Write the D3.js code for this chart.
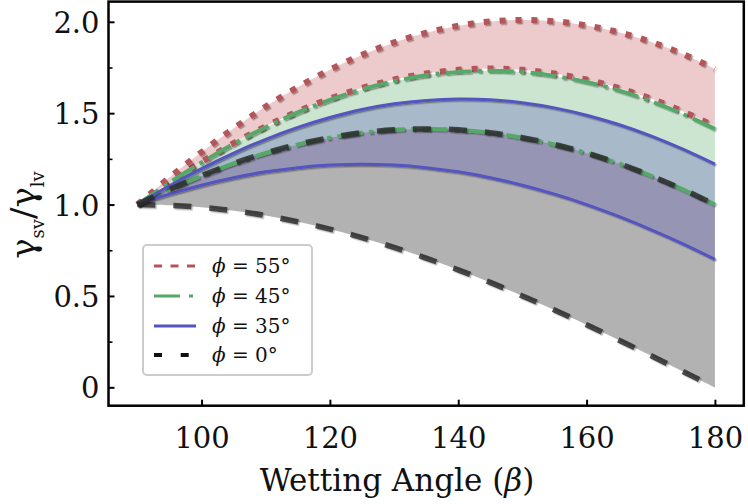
<!DOCTYPE html>
<html>
<head>
<meta charset="utf-8">
<script src="https://cdn.jsdelivr.net/npm/d3@7"></script>
<style>
  html, body { margin: 0; padding: 0; background: #fff; }
  svg { display: block; }
  text { font-family: "DejaVu Serif", "Liberation Serif", serif; fill: #111; }
</style>
</head>
<body>
<svg id="chart" width="748" height="504"></svg>
<script>
// ---- data ----
const betas = [90, 95, 100, 105, 110, 115, 120, 125, 130, 135, 140, 145, 150, 155, 160, 165, 170, 175, 180];

const phi0Lower  = [1.000, 0.996, 0.985, 0.966, 0.940, 0.906, 0.866, 0.819, 0.766, 0.707, 0.643, 0.574, 0.500, 0.423, 0.342, 0.259, 0.174, 0.087, 0.000];
const phi0Upper  = [1.000, 1.083, 1.158, 1.225, 1.282, 1.329, 1.366, 1.393, 1.409, 1.414, 1.409, 1.393, 1.366, 1.329, 1.282, 1.225, 1.158, 1.083, 1.000];
const phi35Lower = [1.000, 1.057, 1.106, 1.147, 1.179, 1.202, 1.216, 1.221, 1.216, 1.202, 1.179, 1.147, 1.106, 1.057, 1.000, 0.935, 0.863, 0.785, 0.700];
const phi35Upper = [1.000, 1.103, 1.197, 1.282, 1.357, 1.422, 1.476, 1.520, 1.551, 1.570, 1.578, 1.574, 1.557, 1.529, 1.489, 1.438, 1.376, 1.303, 1.221];
const phi45Lower = [1.000, 1.083, 1.158, 1.225, 1.282, 1.329, 1.366, 1.393, 1.409, 1.414, 1.409, 1.393, 1.366, 1.329, 1.282, 1.225, 1.158, 1.083, 1.000];
const phi45Upper = [1.000, 1.120, 1.230, 1.332, 1.423, 1.504, 1.573, 1.630, 1.675, 1.707, 1.726, 1.732, 1.725, 1.704, 1.671, 1.625, 1.566, 1.496, 1.414];
const phi55Lower = [1.000, 1.121, 1.233, 1.336, 1.428, 1.510, 1.580, 1.638, 1.684, 1.717, 1.737, 1.744, 1.737, 1.717, 1.684, 1.638, 1.580, 1.510, 1.428];
const phi55Upper = [1.000, 1.148, 1.287, 1.417, 1.536, 1.643, 1.738, 1.819, 1.887, 1.940, 1.978, 2.002, 2.010, 2.003, 1.980, 1.943, 1.891, 1.824, 1.743];

const legendLabels = ["55°", "45°", "35°", "0°"];
const xTicks = [100, 120, 140, 160, 180];
const yTicks = [0, 0.5, 1.0, 1.5, 2.0];
const yTickLabels = ["0", "0.5", "1.0", "1.5", "2.0"];
const yMinorTicks = [0.25, 0.75, 1.25, 1.75];

// ---- layout ----
const svg = d3.select("#chart");
const X0 = 108.5, X1 = 743.8, Y0 = 405.7, Y1 = 1.6;
const x = d3.scaleLinear().domain([85.5, 184.5]).range([X0, X1]);
const y = d3.scaleLinear().domain([-0.1005, 2.1105]).range([Y0, Y1]);

const defs = svg.append("defs");
const f = defs.append("filter").attr("id", "shadow").attr("x", "-10%").attr("y", "-10%").attr("width", "120%").attr("height", "120%");
f.append("feDropShadow").attr("dx", 1.4).attr("dy", 1.4).attr("stdDeviation", 0.4)
  .attr("flood-color", "#000").attr("flood-opacity", 0.35);
defs.append("clipPath").attr("id", "clip").append("rect")
  .attr("x", X0).attr("y", Y1).attr("width", X1 - X0).attr("height", Y0 - Y1);

const groups = [
  { lower: phi0Lower,  upper: phi0Upper,  fill: "#000000" },
  { lower: phi55Lower, upper: phi55Upper, fill: "#c44e52" },
  { lower: phi45Lower, upper: phi45Upper, fill: "#55a868" },
  { lower: phi35Lower, upper: phi35Upper, fill: "#5555bb" }
];

const plot = svg.append("g").attr("clip-path", "url(#clip)");
const curve = d3.curveCatmullRom;

groups.forEach(g => {
  const area = d3.area()
    .x((d, i) => x(betas[i]))
    .y0((d, i) => y(g.lower[i]))
    .y1((d, i) => y(g.upper[i]))
    .curve(curve);
  plot.append("path").datum(betas).attr("d", area)
    .attr("fill", g.fill).attr("fill-opacity", 0.3).attr("stroke", "none");
});

const lineStyles = [
  { data: [phi55Lower, phi55Upper], color: "#b4545a", width: 6, dash: "6,9.9", opacity: 1 },
  { data: [phi45Lower, phi45Upper], color: "#55a868", width: 4, dash: "25.6,6.4,4,6.4", opacity: 1 },
  { data: [phi35Lower, phi35Upper], color: "#5454c0", width: 3, dash: null, opacity: 1 },
  { data: [phi0Lower, phi0Upper],   color: "#2a2a2a", width: 5.5, dash: "18,18", opacity: 0.82 }
];

lineStyles.forEach(s => {
  s.data.forEach(vals => {
    const line = d3.line().x((d, i) => x(betas[i])).y((d, i) => y(vals[i])).curve(curve);
    const p = plot.append("path").datum(betas).attr("d", line)
      .attr("fill", "none").attr("stroke", s.color).attr("stroke-width", s.width)
      .attr("stroke-linecap", "butt").attr("stroke-opacity", s.opacity)
      .attr("filter", "url(#shadow)");
    if (s.dash) p.attr("stroke-dasharray", s.dash);
  });
});

// ---- axes ----
const xAxis = d3.axisBottom(x).tickValues(xTicks).tickSize(-6).tickPadding(0).tickFormat(d3.format("d"));
const gx = svg.append("g").attr("transform", `translate(0,${Y0})`).call(xAxis);
gx.select(".domain").remove();
gx.selectAll(".tick line").attr("stroke", "#000").attr("stroke-width", 2);
gx.selectAll(".tick text").attr("y", 42).attr("dy", null)
  .style("font-family", '"DejaVu Serif", serif').style("font-size", "29px").attr("fill", "#111");

const yAxis = d3.axisLeft(y).tickValues(yTicks).tickSize(-6).tickPadding(0)
  .tickFormat((d, i) => yTickLabels[i]);
const gy = svg.append("g").attr("transform", `translate(${X0},0)`).call(yAxis);
gy.select(".domain").remove();
gy.selectAll(".tick line").attr("stroke", "#000").attr("stroke-width", 2);
gy.selectAll(".tick text").attr("x", -9).attr("dy", "0.36em")
  .style("font-family", '"DejaVu Serif", serif').style("font-size", "29px").attr("fill", "#111");

const yMinor = d3.axisLeft(y).tickValues(yMinorTicks).tickSize(-4).tickFormat("");
const gym = svg.append("g").attr("transform", `translate(${X0},0)`).call(yMinor);
gym.select(".domain").remove();
gym.selectAll(".tick line").attr("stroke", "#000").attr("stroke-width", 1.6);

// frame
svg.append("rect").attr("x", X0).attr("y", Y1).attr("width", X1 - X0).attr("height", Y0 - Y1)
  .attr("fill", "none").attr("stroke", "#000").attr("stroke-width", 2.5);

// axis labels
const xl = svg.append("text").attr("x", 397).attr("y", 491).attr("text-anchor", "middle")
  .style("font-size", "31px");
xl.append("tspan").text("Wetting Angle (");
xl.append("tspan").style("font-style", "italic").text("β");
xl.append("tspan").text(")");

const yl = svg.append("text").attr("transform", "translate(35,215) rotate(-90)")
  .attr("text-anchor", "middle").style("font-size", "34px");
yl.append("tspan").text("γ");
yl.append("tspan").attr("dy", 9).style("font-size", "18px").text("sv");
yl.append("tspan").attr("dy", -9).text("/γ");
yl.append("tspan").attr("dy", 9).style("font-size", "18px").text("lv");

// ---- legend ----
const leg = svg.append("g");
leg.append("rect").attr("x", 143).attr("y", 245).attr("width", 169).attr("height", 130)
  .attr("rx", 4).attr("fill", "#fff").attr("fill-opacity", 0.85)
  .attr("stroke", "#cccccc").attr("stroke-width", 2);

const legItems = [
  { color: "#b4545a", width: 3, dash: "8,8.5" },
  { color: "#55a868", width: 3, dash: "26,9,4,9" },
  { color: "#5454c0", width: 3, dash: null },
  { color: "#111111", width: 4, dash: "8,18.7" }
];
const legY = [266, 296, 326, 355];
legItems.forEach((it, i) => {
  const ln = leg.append("line").attr("x1", 154).attr("x2", 196)
    .attr("y1", legY[i]).attr("y2", legY[i])
    .attr("stroke", it.color).attr("stroke-width", it.width);
  if (it.dash) ln.attr("stroke-dasharray", it.dash);
  const t = leg.append("text").attr("x", 212).attr("y", legY[i] + 7).style("font-size", "20px");
  t.append("tspan").style("font-style", "italic").text("ϕ");
  t.append("tspan").text(" = " + legendLabels[i]);
});
</script>
</body>
</html>
